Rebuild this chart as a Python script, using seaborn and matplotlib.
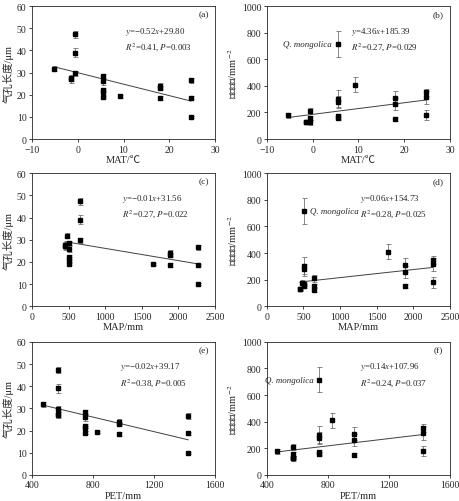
import numpy as np
import pandas as pd
import matplotlib
matplotlib.use("Agg")
import matplotlib.pyplot as plt
import seaborn as sns

# one entry per species
mat = [-5.3, -1.5, -1.5, -0.5, -0.5, -0.5, 5.5, 5.5, 5.5, 5.5, 5.5, 9.2, 18.0, 18.0, 18.0, 24.7, 24.7, 24.7]
map_ = [480, 450, 450, 650, 650, 650, 510, 510, 510, 510, 510, 1650, 1890, 1890, 1890, 2265, 2265, 2265]
pet = [470, 570, 570, 570, 570, 570, 745, 745, 745, 745, 745, 825, 970, 970, 970, 1425, 1425, 1425]
length = [31.8, 27.5, 27.0, 47.3, 39.0, 29.7, 28.3, 26.0, 22.0, 21.0, 19.0, 19.2, 24.0, 23.0, 18.5, 26.5, 18.7, 10.0]
length_err = [1.2, 1.5, 1.5, 1.5, 2.0, 1.2, 1.0, 1.5, 1.0, 1.0, 0.6, 0.5, 1.3, 1.0, 0.8, 1.2, 0.5, 0.4]
density = [178, 130, 128, 210, 155, 125, 715, 300, 280, 170, 155, 410, 310, 260, 150, 350, 315, 180]
density_err = [20, 10, 10, 25, 15, 20, 95, 70, 40, 20, 15, 55, 50, 45, 15, 30, 50, 40]
mongolica_idx = 6

equations = {
    "a": ("$y$=\u22120.52$x$+29.80", "$R^2$=0.41, $P$=0.003"),
    "b": ("$y$=4.36$x$+185.39", "$R^2$=0.27, $P$=0.029"),
    "c": ("$y$=\u22120.01$x$+31.56", "$R^2$=0.27, $P$=0.022"),
    "d": ("$y$=0.06$x$+154.73", "$R^2$=0.28, $P$=0.025"),
    "e": ("$y$=\u22120.02$x$+39.17", "$R^2$=0.38, $P$=0.005"),
    "f": ("$y$=0.14$x$+107.96", "$R^2$=0.24, $P$=0.037"),
}

df = pd.DataFrame({"MAT": mat, "MAP": map_, "PET": pet,
                   "length": length, "length_err": length_err,
                   "density": density, "density_err": density_err})
# Q. mongolica is an outlier, left out of the density fits
df_fit_density = df.drop(index=mongolica_idx)

sns.set_theme(style="ticks")
plt.rcParams["font.family"] = ["Liberation Serif", "Noto Sans CJK SC"]
plt.rcParams["mathtext.fontset"] = "stix"
plt.rcParams["font.size"] = 7
plt.rcParams["axes.linewidth"] = 0.6
plt.rcParams["xtick.major.width"] = 0.6
plt.rcParams["ytick.major.width"] = 0.6
plt.rcParams["xtick.major.size"] = 2.5
plt.rcParams["ytick.major.size"] = 2.5

fig = plt.figure(figsize=(4.6, 5.02), dpi=100)

lefts = [0.0696, 0.580]
bottoms = [0.721, 0.388, 0.052]
w, h = 0.398, 0.265

panels = [
    ("a", "MAT", "length", "MAT/\u2103", (-10, 30), np.arange(-10, 31, 10), (0, 60), np.arange(0, 61, 10)),
    ("b", "MAT", "density", "MAT/\u2103", (-10, 30), np.arange(-10, 31, 10), (0, 1000), np.arange(0, 1001, 200)),
    ("c", "MAP", "length", "MAP/mm", (0, 2500), np.arange(0, 2501, 500), (0, 60), np.arange(0, 61, 10)),
    ("d", "MAP", "density", "MAP/mm", (0, 2500), np.arange(0, 2501, 500), (0, 1000), np.arange(0, 1001, 200)),
    ("e", "PET", "length", "PET/mm", (400, 1600), np.arange(400, 1601, 400), (0, 60), np.arange(0, 61, 10)),
    ("f", "PET", "density", "PET/mm", (400, 1600), np.arange(400, 1601, 400), (0, 1000), np.arange(0, 1001, 200)),
]

eq_pos = {"a": 0.51, "b": 0.46, "c": 0.49, "d": 0.51, "e": 0.48, "f": 0.51}

for i, (tag, xcol, ycol, xlabel, xlim, xt, ylim, yt) in enumerate(panels):
    ax = fig.add_axes([lefts[i % 2], bottoms[i // 2], w, h])
    ax.errorbar(df[xcol], df[ycol], yerr=df[ycol + "_err"], fmt="s", color="black",
                ms=2.8, elinewidth=0.5, capsize=1.8, capthick=0.5, ecolor="0.35", zorder=3)
    fit_df = df_fit_density if ycol == "density" else df
    sns.regplot(data=fit_df, x=xcol, y=ycol, ax=ax, scatter=False, ci=None, truncate=True,
                line_kws={"color": "0.25", "lw": 0.7})
    ax.set_xlim(*xlim)
    ax.set_ylim(*ylim)
    ax.set_xticks(xt)
    ax.set_yticks(yt)
    ax.tick_params(labelsize=7, pad=1.5)
    ax.set_xlabel(xlabel, fontsize=7.5, labelpad=1)
    if ycol == "length":
        ax.set_ylabel("气孔长度/μm", fontsize=7.5, labelpad=2)
    else:
        ax.set_ylabel("气孔密度/mm$^{-2}$", fontsize=7.5, labelpad=2)
    ax.text(0.965, 0.94, f"({tag})", transform=ax.transAxes, ha="right", va="center", fontsize=6.8)
    l1, l2 = equations[tag]
    ax.text(eq_pos[tag], 0.815, l1, transform=ax.transAxes, ha="left", va="center", fontsize=6.4)
    ax.text(eq_pos[tag], 0.70, l2, transform=ax.transAxes, ha="left", va="center", fontsize=6.4)
    if ycol == "density":
        right = tag == "d"
        ax.annotate("Q. mongolica", (df[xcol][mongolica_idx], df[ycol][mongolica_idx]),
                    xytext=(4 if right else -4, 0), textcoords="offset points",
                    ha="left" if right else "right", va="center",
                    fontsize=6.4, fontstyle="italic")

fig.savefig("out.png", dpi=100)
